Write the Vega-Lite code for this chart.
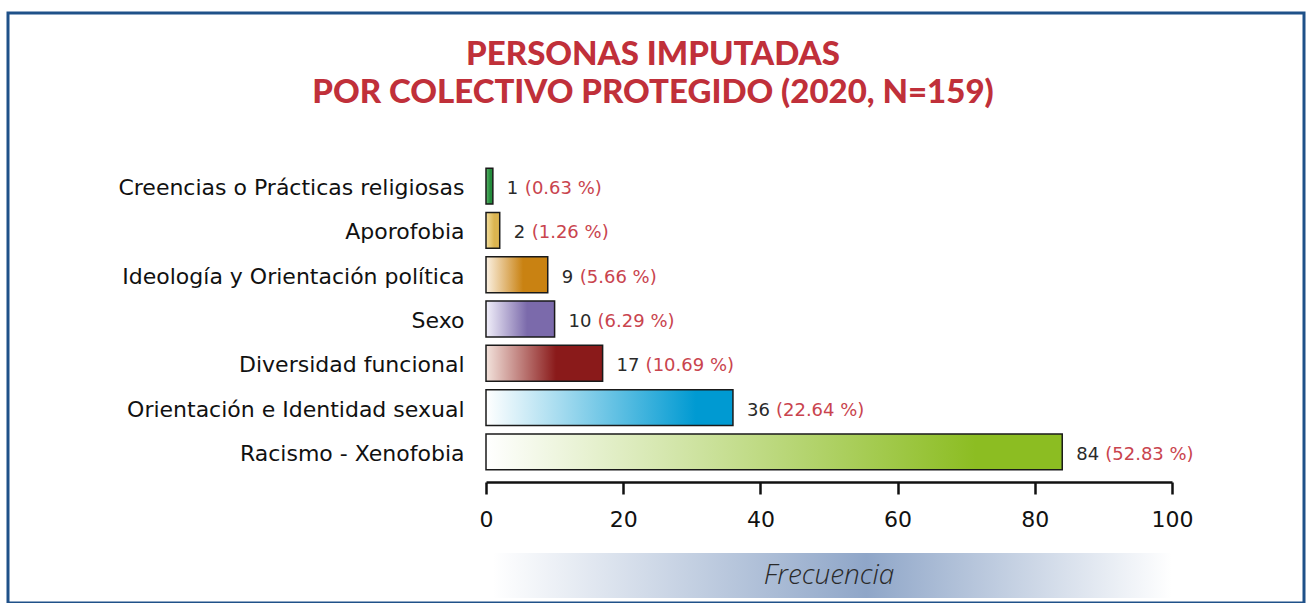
{
  "$schema": "https://vega.github.io/schema/vega-lite/v6.json",
  "width": 1296,
  "height": 590,
  "autosize": {"type": "none"},
  "padding": {"left": 8, "top": 13, "right": 2, "bottom": 0},
  "background": "white",
  "title": {
    "text": ["PERSONAS IMPUTADAS", "POR COLECTIVO PROTEGIDO (2020, N=159)"],
    "anchor": "middle",
    "frame": "group",
    "offset": -97,
    "dx": -3,
    "font": "Lato",
    "fontSize": 33,
    "fontWeight": 900,
    "color": "#c0303a",
    "lineHeight": 38
  },
  "datasets": {
    "colectivos": [
      {"categoria": "Creencias o Prácticas religiosas", "n": 1, "porcentaje": "(0.63 %)"},
      {"categoria": "Aporofobia", "n": 2, "porcentaje": "(1.26 %)"},
      {"categoria": "Ideología y Orientación política", "n": 9, "porcentaje": "(5.66 %)"},
      {"categoria": "Sexo", "n": 10, "porcentaje": "(6.29 %)"},
      {"categoria": "Diversidad funcional", "n": 17, "porcentaje": "(10.69 %)"},
      {"categoria": "Orientación e Identidad sexual", "n": 36, "porcentaje": "(22.64 %)"},
      {"categoria": "Racismo - Xenofobia", "n": 84, "porcentaje": "(52.83 %)"}
    ],
    "eje": [{"rotulo": "Frecuencia"}]
  },
  "layer": [
    {
      "data": {"name": "colectivos"},
      "encoding": {
        "y": {
          "field": "categoria",
          "type": "nominal",
          "sort": null,
          "scale": {
            "domain": ["Creencias o Prácticas religiosas", "Aporofobia", "Ideología y Orientación política", "Sexo", "Diversidad funcional", "Orientación e Identidad sexual", "Racismo - Xenofobia"],
            "range": [151, 461],
            "paddingInner": 0.19,
            "paddingOuter": 0.095
          },
          "axis": {"title": null}
        },
        "x": {
          "field": "n",
          "type": "quantitative",
          "scale": {"domain": [0, 100], "range": [478, 1164], "nice": false},
          "axis": {"title": null}
        }
      },
      "layer": [
        {
          "transform": [{"filter": "datum.categoria === 'Creencias o Prácticas religiosas'"}],
          "mark": {"type": "bar", "stroke": "#1a1a1a", "strokeWidth": 1.5,
            "fill": {"gradient": "linear", "x1": 0, "y1": 0, "x2": 1, "y2": 0,
              "stops": [{"offset": 0, "color": "#5cb56a"}, {"offset": 0.6, "color": "#248c3c"}, {"offset": 1, "color": "#248c3c"}]}}
        },
        {
          "transform": [{"filter": "datum.categoria === 'Aporofobia'"}],
          "mark": {"type": "bar", "stroke": "#1a1a1a", "strokeWidth": 1.5,
            "fill": {"gradient": "linear", "x1": 0, "y1": 0, "x2": 1, "y2": 0,
              "stops": [{"offset": 0, "color": "#f3df9e"}, {"offset": 0.6, "color": "#dbb450"}, {"offset": 1, "color": "#dbb450"}]}}
        },
        {
          "transform": [{"filter": "datum.categoria === 'Ideología y Orientación política'"}],
          "mark": {"type": "bar", "stroke": "#1a1a1a", "strokeWidth": 1.5,
            "fill": {"gradient": "linear", "x1": 0, "y1": 0, "x2": 1, "y2": 0,
              "stops": [{"offset": 0, "color": "#fbf1e2"}, {"offset": 0.6, "color": "#c98212"}, {"offset": 1, "color": "#c98212"}]}}
        },
        {
          "transform": [{"filter": "datum.categoria === 'Sexo'"}],
          "mark": {"type": "bar", "stroke": "#1a1a1a", "strokeWidth": 1.5,
            "fill": {"gradient": "linear", "x1": 0, "y1": 0, "x2": 1, "y2": 0,
              "stops": [{"offset": 0, "color": "#f1effa"}, {"offset": 0.6, "color": "#7b6aab"}, {"offset": 1, "color": "#7b6aab"}]}}
        },
        {
          "transform": [{"filter": "datum.categoria === 'Diversidad funcional'"}],
          "mark": {"type": "bar", "stroke": "#1a1a1a", "strokeWidth": 1.5,
            "fill": {"gradient": "linear", "x1": 0, "y1": 0, "x2": 1, "y2": 0,
              "stops": [{"offset": 0, "color": "#f3e3dc"}, {"offset": 0.6, "color": "#8a1a1a"}, {"offset": 1, "color": "#8a1a1a"}]}}
        },
        {
          "transform": [{"filter": "datum.categoria === 'Orientación e Identidad sexual'"}],
          "mark": {"type": "bar", "stroke": "#1a1a1a", "strokeWidth": 1.5,
            "fill": {"gradient": "linear", "x1": 0, "y1": 0, "x2": 1, "y2": 0,
              "stops": [{"offset": 0, "color": "#ffffff"}, {"offset": 0.85, "color": "#009ad2"}, {"offset": 1, "color": "#009ad2"}]}}
        },
        {
          "transform": [{"filter": "datum.categoria === 'Racismo - Xenofobia'"}],
          "mark": {"type": "bar", "stroke": "#1a1a1a", "strokeWidth": 1.5,
            "fill": {"gradient": "linear", "x1": 0, "y1": 0, "x2": 1, "y2": 0,
              "stops": [{"offset": 0, "color": "#ffffff"}, {"offset": 0.85, "color": "#8cbd22"}, {"offset": 1, "color": "#8cbd22"}]}}
        },
        {
          "mark": {"type": "text", "align": "left", "baseline": "middle", "dx": 14, "dy": 3, "font": "DejaVu Sans", "fontSize": 18, "color": "#2a2a2a"},
          "encoding": {"text": {"field": "n", "type": "quantitative"}}
        },
        {
          "transform": [{"filter": "datum.n < 10"}],
          "mark": {"type": "text", "align": "left", "baseline": "middle", "dx": 32, "dy": 3, "font": "DejaVu Sans", "fontSize": 18, "color": "#c9444e"},
          "encoding": {"text": {"field": "porcentaje"}}
        },
        {
          "transform": [{"filter": "datum.n >= 10"}],
          "mark": {"type": "text", "align": "left", "baseline": "middle", "dx": 43, "dy": 3, "font": "DejaVu Sans", "fontSize": 18, "color": "#c9444e"},
          "encoding": {"text": {"field": "porcentaje"}}
        }
      ]
    },
    {
      "data": {"name": "eje"},
      "encoding": {
        "y": {
          "field": "rotulo",
          "type": "nominal",
          "scale": {"domain": ["Frecuencia"], "range": [540, 585], "paddingInner": 0, "paddingOuter": 0},
          "axis": null
        }
      },
      "layer": [
        {
          "mark": {"type": "rect",
            "fill": {"gradient": "linear", "x1": 0, "y1": 0, "x2": 1, "y2": 0,
              "stops": [{"offset": 0, "color": "#ffffff"}, {"offset": 0.55, "color": "#8fa6c8"}, {"offset": 1, "color": "#ffffff"}]}},
          "encoding": {
            "x": {"datum": 1, "type": "quantitative", "axis": {"title": null}},
            "x2": {"datum": 100}
          }
        },
        {
          "mark": {"type": "text", "font": "Open Sans", "fontSize": 28, "fontStyle": "italic", "fontWeight": 300, "color": "#2a2a2a", "baseline": "middle"},
          "encoding": {
            "x": {"datum": 50, "type": "quantitative", "axis": {"title": null}},
            "text": {"field": "rotulo"}
          }
        }
      ]
    }
  ],
  "resolve": {"scale": {"y": "independent"}},
  "config": {
    "view": {"stroke": "#1f5189", "strokeWidth": 3},
    "axisX": {
      "offset": -121,
      "tickCount": 5,
      "domainColor": "#111111",
      "domainWidth": 2.5,
      "tickColor": "#111111",
      "tickWidth": 2.5,
      "tickSize": 12,
      "grid": false,
      "labelFlush": false,
      "labelFont": "DejaVu Sans",
      "labelFontSize": 22,
      "labelColor": "#111111",
      "labelPadding": 15
    },
    "axisY": {
      "offset": -478,
      "domain": false,
      "ticks": false,
      "tickSize": 0,
      "grid": false,
      "labelFont": "DejaVu Sans",
      "labelFontSize": 22,
      "labelOffset": 2,
      "labelColor": "#111111",
      "labelPadding": 22,
      "labelLimit": 0
    }
  }
}
